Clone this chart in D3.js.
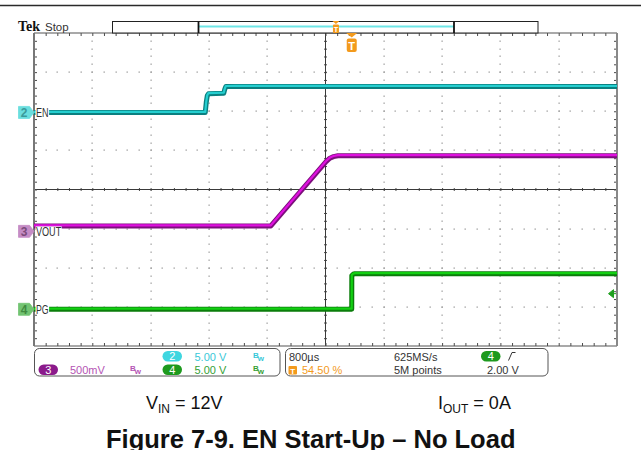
<!DOCTYPE html>
<html><head><meta charset="utf-8">
<script src="https://cdn.jsdelivr.net/npm/d3@7"></script>
<style>
html,body{margin:0;padding:0;background:#fff;}
svg{display:block;font-family:"Liberation Sans",Arial,sans-serif;}
</style></head><body>
<svg id="chart" width="641" height="450"></svg>
<script>
// Timebase: 800 µs/div over 10 divisions, trigger point at 54.50 % of the record
const timePerDiv = 800;          // µs
const horizDivs = 10;
const vertDivs = 8;
const triggerPct = 54.5;

// Channel setup (number, label, volts/div, position in divisions)
const chNumber   = [2, 3, 4];
const chLabel    = ["EN", "VOUT", "PG"];
const chVoltsDiv = [5, 0.5, 5];
const chPosition = [1.97, -1.07, -3.062];
const chScaleText = ["5.00 V", "500mV", "5.00 V"];

// Trigger: channel 4, rising edge, 2.00 V
const trigChannel = 4;
const trigLevel = 2.0;

// EN (channel 2): time in µs from trigger, volts
const enTime  = [-4360, -2010, -1996, -1982, -1966, -1756, -1744, -1728, -1600, 3640];
const enVolts = [0, 0, 1.3, 2.15, 2.38, 2.45, 2.9, 3.3, 3.32, 3.3];

// VOUT (channel 3)
const voutTime  = [-4360, -1110, -352, -300, -250, -190, 3640];
const voutVolts = [0.07, 0.07, 0.891, 0.935, 0.955, 0.967, 0.967];

// PG (channel 4)
const pgTime  = [-4360, 0, 1, 20, 45, 3640];
const pgVolts = [0, 0, 4.32, 4.48, 4.55, 4.55];

const W = 641, H = 450;
const gx0 = 34, gx1 = 617, gy0 = 33, gy1 = 346;

const svg = d3.select("#chart");

const tSpan = timePerDiv * horizDivs;
const x = d3.scaleLinear()
  .domain([-triggerPct / 100 * tSpan, (1 - triggerPct / 100) * tSpan])
  .range([gx0, gx1]);
const yDiv = d3.scaleLinear().domain([-vertDivs / 2, vertDivs / 2]).range([gy1, gy0]);
const chY = (i, v) => yDiv(chPosition[i] + v / chVoltsDiv[i]);

// Graticule positions in divisions, used by D3 axes
const xDivScale = d3.scaleLinear().domain([0, horizDivs]).range([gx0, gx1]);
const yDivScale = d3.scaleLinear().domain([0, vertDivs]).range([gy0, gy1]);
const minorX = d3.range(1, horizDivs * 5).map(k => k / 5);
const minorY = d3.range(1, vertDivs * 5).map(k => k / 5);

// top rule
svg.append("line").attr("x1", 0).attr("x2", W).attr("y1", 5.5).attr("y2", 5.5)
  .attr("stroke", "#2a2a2a").attr("stroke-width", 1.3);

// dotted graticule
const dots = svg.append("g").attr("fill", "#9c9c9c");
d3.range(1, horizDivs).filter(i => i !== horizDivs / 2).forEach(i => {
  minorY.forEach(k => dots.append("rect")
    .attr("x", Math.round(xDivScale(i)) - 0.5).attr("y", Math.round(yDivScale(k)) - 0.5)
    .attr("width", 1.2).attr("height", 1.4));
});
d3.range(1, vertDivs).filter(j => j !== vertDivs / 2).forEach(j => {
  minorX.forEach(k => dots.append("rect")
    .attr("x", Math.round(xDivScale(k)) - 0.5).attr("y", Math.round(yDivScale(j)) - 0.5)
    .attr("width", 1.4).attr("height", 1.2));
});

// center crosshair with minor ticks
const cx = xDivScale(horizDivs / 2), cy = yDivScale(vertDivs / 2);
function tickAxis(axis, tr) {
  const g = svg.append("g").attr("transform", tr).call(axis);
  g.selectAll("text").remove();
  g.select(".domain").remove();
  g.selectAll(".tick line").attr("stroke", "#4a4a4a").attr("stroke-width", 1);
  return g;
}
tickAxis(d3.axisBottom(xDivScale).tickValues(minorX).tickSize(3).tickFormat(""), `translate(0,${cy - 1.5})`);
tickAxis(d3.axisRight(yDivScale).tickValues(minorY).tickSize(3).tickFormat(""), `translate(${cx - 1.5},0)`);
svg.append("line").attr("x1", gx0).attr("x2", gx1).attr("y1", cy).attr("y2", cy)
  .attr("stroke", "#3a3a3a").attr("stroke-width", 1);
svg.append("line").attr("x1", cx).attr("x2", cx).attr("y1", gy0).attr("y2", gy1)
  .attr("stroke", "#3a3a3a").attr("stroke-width", 1);

// border ticks
tickAxis(d3.axisBottom(xDivScale).tickValues(minorX).tickSize(3).tickFormat(""), `translate(0,${gy0})`);
tickAxis(d3.axisTop(xDivScale).tickValues(minorX).tickSize(3).tickFormat(""), `translate(0,${gy1})`);
tickAxis(d3.axisRight(yDivScale).tickValues(minorY).tickSize(3).tickFormat(""), `translate(${gx0},0)`);
tickAxis(d3.axisLeft(yDivScale).tickValues(minorY).tickSize(3).tickFormat(""), `translate(${gx1},0)`);

// graticule frame
svg.append("line").attr("x1", gx0).attr("x2", gx1).attr("y1", gy0).attr("y2", gy0).attr("stroke", "#555").attr("stroke-width", 1.2);
svg.append("line").attr("x1", gx0).attr("x2", gx1).attr("y1", gy1).attr("y2", gy1).attr("stroke", "#555").attr("stroke-width", 1.2);
svg.append("line").attr("x1", gx0).attr("x2", gx0).attr("y1", gy0).attr("y2", gy1).attr("stroke", "#777").attr("stroke-width", 2);
svg.append("line").attr("x1", gx1).attr("x2", gx1).attr("y1", gy0).attr("y2", gy1).attr("stroke", "#888").attr("stroke-width", 2);

// waveforms
const traceStyle = [
  { outer: "#0b8080", inner: "#25cfd0" },
  { outer: "#7c0f7c", inner: "#df10df" },
  { outer: "#0b7d0b", inner: "#12d012" }
];
const traces = [
  { i: 0, t: enTime, v: enVolts },
  { i: 1, t: voutTime, v: voutVolts },
  { i: 2, t: pgTime, v: pgVolts }
];
const wave = svg.append("g");
traces.forEach(tr => {
  const pts = tr.t.map((t, k) => [x(t), chY(tr.i, tr.v[k])]);
  const line = d3.line().curve(d3.curveLinear);
  wave.append("path").attr("d", line(pts)).attr("fill", "none")
    .attr("stroke", traceStyle[tr.i].outer).attr("stroke-width", 5).attr("stroke-linejoin", "round");
  wave.append("path").attr("d", line(pts.map(p => [p[0], p[1] - 0.6]))).attr("fill", "none")
    .attr("stroke", traceStyle[tr.i].inner).attr("stroke-width", 2.2).attr("stroke-linejoin", "round");
});

// channel ground markers and labels
const markerFill = ["#6adede", "#c58cc5", "#72c472"];
const markerText = ["#3a9a9a", "#7a4a7a", "#3f8a3f"];
chNumber.forEach((n, i) => {
  const yy = chY(i, 0);
  svg.append("path")
    .attr("d", `M18.5,${yy - 6} h11 l4.5,6 l-4.5,6 h-11 z`)
    .attr("fill", markerFill[i]).attr("stroke", markerFill[i]).attr("stroke-width", 0.8)
    .attr("stroke-linejoin", "round");
  svg.append("text").attr("x", 24).attr("y", yy + 4.5).attr("text-anchor", "middle")
    .attr("font-size", 12).attr("font-weight", "bold").attr("fill", markerText[i]).text(n);
  const lw = chLabel[i].length * 6.3;
  svg.append("rect").attr("x", 35.5).attr("y", yy - 5).attr("width", lw + 1).attr("height", 10).attr("fill", "#fff");
  svg.append("text").attr("x", 36).attr("y", yy + 4.5).attr("font-size", 12)
    .attr("textLength", lw).attr("lengthAdjust", "spacingAndGlyphs")
    .attr("fill", "#333").text(chLabel[i]);
});

// trigger level arrow on the right edge
const ty = chY(chNumber.indexOf(trigChannel), trigLevel);
svg.append("path").attr("d", `M608.5,${ty} l5,-4 v8 z M613,${ty} h3`)
  .attr("fill", "#1fa01f").attr("stroke", "#1fa01f").attr("stroke-width", 1);

// record overview bar
svg.append("rect").attr("x", 112.5).attr("y", 21.5).attr("width", 425.5).attr("height", 11.5)
  .attr("fill", "#fff").attr("stroke", "#222").attr("stroke-width", 1);
svg.append("line").attr("x1", 199).attr("x2", 454).attr("y1", 26.5).attr("y2", 26.5)
  .attr("stroke", "#6ee6e6").attr("stroke-width", 2);
[198.5, 454].forEach(bx => svg.append("line").attr("x1", bx).attr("x2", bx).attr("y1", 21.5).attr("y2", 33)
  .attr("stroke", "#111").attr("stroke-width", 1.8));

// trigger position markers
const orange = "#f39a1c";
const tx = x(0);
svg.append("path").attr("d", `M${tx - 5.5},33 h11 l-5.5,4.5 z`).attr("fill", orange);
svg.append("rect").attr("x", tx - 5).attr("y", 38.5).attr("width", 10).attr("height", 13.5).attr("rx", 2).attr("fill", orange);
svg.append("text").attr("x", tx).attr("y", 49.5).attr("text-anchor", "middle").attr("font-size", 11)
  .attr("font-weight", "bold").attr("fill", "#fff").text("T");
const sx = 112.5 + (triggerPct / 100) * 410;
svg.append("path").attr("d", `M${sx - 3.5},21 h7 l-3.5,3 z`).attr("fill", orange);
svg.append("rect").attr("x", sx - 3).attr("y", 24.5).attr("width", 6).attr("height", 8.5).attr("rx", 1).attr("fill", orange);
svg.append("text").attr("x", sx).attr("y", 32).attr("text-anchor", "middle").attr("font-size", 7.5)
  .attr("font-weight", "bold").attr("fill", "#fff").text("T");

// header
svg.append("text").attr("x", 18).attr("y", 31).attr("font-family", "'Liberation Serif',serif")
  .attr("font-weight", "bold").attr("font-size", 14).attr("fill", "#111").text("Tek");
svg.append("text").attr("x", 45).attr("y", 30.5).attr("font-size", 11.5).attr("fill", "#333").text("Stop");

// readout panels
svg.append("rect").attr("x", 34.5).attr("y", 348.5).attr("width", 245.5).attr("height", 27.5).attr("rx", 5)
  .attr("fill", "#fff").attr("stroke", "#555").attr("stroke-width", 1);
svg.append("rect").attr("x", 285.5).attr("y", 348.5).attr("width", 262.5).attr("height", 27.5).attr("rx", 5)
  .attr("fill", "#fff").attr("stroke", "#555").attr("stroke-width", 1);

const pillFill = ["#3fd6e0", "#8b1a8b", "#1e9a1e"];
const textCol  = ["#38c8d8", "#b454b4", "#35a035"];
const row1 = 360.5, row2 = 374;
function pill(px, py, n, fill) {
  svg.append("rect").attr("x", px).attr("y", py - 9.5).attr("width", 19.5).attr("height", 10.5).attr("rx", 5.2).attr("fill", fill);
  svg.append("text").attr("x", px + 9.75).attr("y", py - 0.3).attr("text-anchor", "middle")
    .attr("font-size", 11).attr("fill", "#fff").text(n);
}
// bandwidth-limit glyph: raised B with a lowered w
function bw(bx, by, col) {
  const t = svg.append("text").attr("x", bx).attr("y", by - 3).attr("font-size", 8)
    .attr("font-weight", "bold").attr("fill", col);
  t.append("tspan").text("B");
  t.append("tspan").attr("dy", 3).attr("dx", -1).text("w");
}
const pillX = [162.5, 38.5, 162.5];
const rowY = [row1, row2, row2];
const scaleX = [194.5, 70, 194.5];
const bwX = [253, 130, 253];
chNumber.forEach((n, i) => {
  pill(pillX[i], rowY[i], n, pillFill[i]);
  svg.append("text").attr("x", scaleX[i]).attr("y", rowY[i]).attr("font-size", 11)
    .attr("fill", textCol[i]).text(chScaleText[i]);
  bw(bwX[i], rowY[i], textCol[i]);
});

const dark = "#333";
svg.append("text").attr("x", 289).attr("y", row1).attr("font-size", 11).attr("fill", dark).text(timePerDiv + "µs");
svg.append("rect").attr("x", 288.5).attr("y", 366).attr("width", 8.5).attr("height", 8.5).attr("rx", 1).attr("fill", orange);
svg.append("text").attr("x", 292.75).attr("y", 373.5).attr("text-anchor", "middle").attr("font-size", 8)
  .attr("font-weight", "bold").attr("fill", "#fff").text("T");
svg.append("text").attr("x", 302).attr("y", row2).attr("font-size", 11).attr("fill", orange).text(triggerPct.toFixed(2) + " %");
svg.append("text").attr("x", 394).attr("y", row1).attr("font-size", 11).attr("fill", dark).text("625MS/s");
svg.append("text").attr("x", 394).attr("y", row2).attr("font-size", 11).attr("fill", dark).text("5M points");
pill(481, row1, trigChannel, pillFill[2]);
svg.append("path").attr("d", "M508.5,360.5 L512,352.5 H515.5").attr("fill", "none").attr("stroke", dark).attr("stroke-width", 1);
svg.append("text").attr("x", 487).attr("y", row2).attr("font-size", 11).attr("fill", dark).text(trigLevel.toFixed(2) + " V");

// conditions and caption
function subLabel(lx, main, sub, rest) {
  const t = svg.append("text").attr("x", lx).attr("y", 409).attr("font-size", 18).attr("fill", "#111");
  t.append("tspan").text(main);
  t.append("tspan").attr("font-size", 12).attr("dy", 4).text(sub);
  t.append("tspan").attr("dy", -4).text(rest);
}
subLabel(146, "V", "IN", " = 12V");
subLabel(438, "I", "OUT", " = 0A");
svg.append("text").attr("x", 106).attr("y", 448).attr("font-size", 25.5).attr("font-weight", "bold")
  .attr("fill", "#111").text("Figure 7-9. EN Start-Up – No Load");
</script>
</body></html>
